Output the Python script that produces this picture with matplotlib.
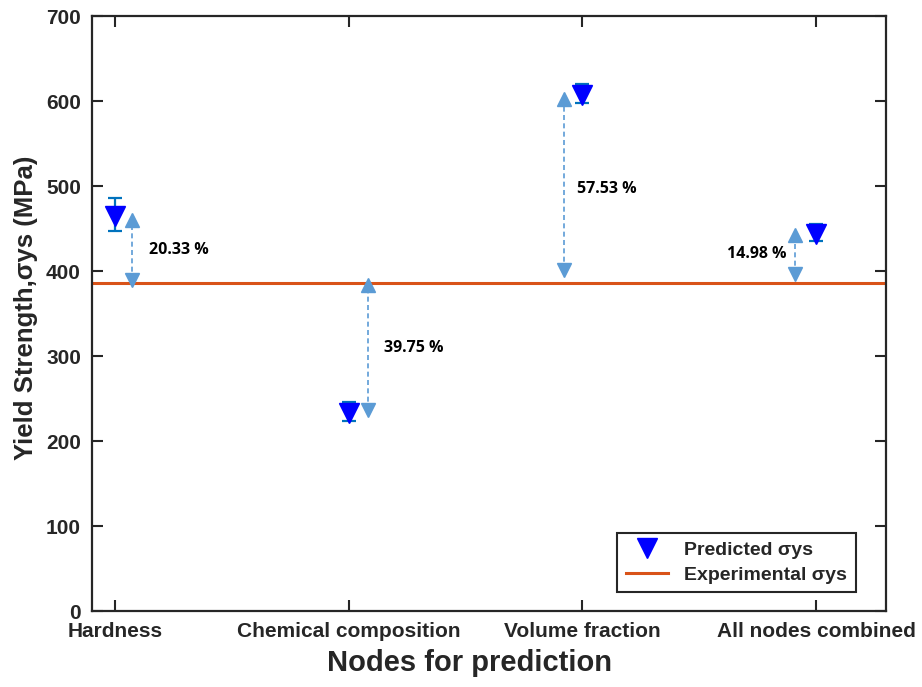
"""Yield strength predicted from each input node versus the experimental value."""

import matplotlib.pyplot as plt
from matplotlib.ticker import FixedLocator

plt.rcParams["font.family"] = ["Liberation Sans", "DejaVu Sans"]

# prediction nodes and predicted yield strength (MPa)
NODES = ["Hardness", "Chemical composition", "Volume fraction", "All nodes combined"]
PREDICTED_MPA = [465.0, 233.0, 607.0, 443.0]
ERR_LOW_MPA = [18.0, 9.0, 9.0, 8.0]
ERR_HIGH_MPA = [21.0, 13.0, 13.0, 12.0]
EXPERIMENTAL_MPA = 386.0

# deviation arrows: x position, lower end, upper end, label
ARROW_X = [1.073, 2.08, 2.92, 3.91]
ARROW_LOW = [389.0, 237.0, 401.0, 397.0]
ARROW_HIGH = [460.0, 383.0, 602.0, 442.0]
DEVIATION_LABELS = ["20.33 %", "39.75 %", "57.53 %", "14.98 %"]
LABEL_X = [1.145, 2.15, 2.975, 3.62]
LABEL_Y = [425.0, 310.0, 497.0, 420.0]

Y_TICKS = [0, 100, 200, 300, 400, 500, 600, 700]

TEXT_COLOR = "#262626"
ARROW_COLOR = "#5b9bd5"

fig = plt.figure(figsize=(9.22, 6.87), dpi=100)
ax = fig.add_axes([0.0998, 0.1106, 0.8612, 0.8661])

x_pos = list(range(1, len(NODES) + 1))

# experimental reference line
ax.axhline(EXPERIMENTAL_MPA, color="#d95319", linewidth=2.2, zorder=2,
           label="Experimental σys")

# predicted values with error bars
ax.errorbar(x_pos, PREDICTED_MPA, yerr=[ERR_LOW_MPA, ERR_HIGH_MPA],
            fmt="none", ecolor="#0072bd", elinewidth=1.6, capsize=5,
            capthick=1.6, zorder=3)
ax.plot(x_pos, PREDICTED_MPA, linestyle="none", marker="v", markersize=14,
        markerfacecolor="#0000ff", markeredgecolor="#0000ff", zorder=4,
        label="Predicted σys")

# dashed double-headed arrows for the deviation
for xa, lo, hi, text, lx, ly in zip(ARROW_X, ARROW_LOW, ARROW_HIGH,
                                    DEVIATION_LABELS, LABEL_X, LABEL_Y):
    ax.plot([xa, xa], [lo, hi], linestyle=(0, (3, 2)), color=ARROW_COLOR,
            linewidth=1.2, zorder=3)
    ax.plot([xa], [hi], linestyle="none", marker="^", markersize=10,
            color=ARROW_COLOR, zorder=3)
    ax.plot([xa], [lo], linestyle="none", marker="v", markersize=10,
            color=ARROW_COLOR, zorder=3)
    ax.text(lx, ly, text, fontsize=11.5, fontweight="bold", color="black",
            va="center", ha="left", family=["Open Sans", "DejaVu Sans"])

ax.set_xlim(0.9, 4.3)
ax.set_ylim(0, 700)
ax.xaxis.set_major_locator(FixedLocator(x_pos))
ax.set_xticklabels(NODES)
ax.yaxis.set_major_locator(FixedLocator(Y_TICKS))

ax.tick_params(axis="both", which="major", direction="in", length=8,
               width=1.5, top=True, right=True, colors=TEXT_COLOR,
               labelsize=15, pad=8)
for label in ax.get_xticklabels() + ax.get_yticklabels():
    label.set_fontweight("bold")
for spine in ax.spines.values():
    spine.set_linewidth(1.6)
    spine.set_color(TEXT_COLOR)

ax.set_xlabel("Nodes for prediction", fontsize=21, fontweight="bold",
              color=TEXT_COLOR)
ax.set_ylabel("Yield Strength,σys (MPa)", fontsize=18.5, fontweight="bold",
              color=TEXT_COLOR)
ax.xaxis.set_label_coords(0.475, -0.064)
ax.yaxis.set_label_coords(-0.068, 0.51)

handles, labels = ax.get_legend_handles_labels()
legend = ax.legend(handles[::-1], labels[::-1], loc="lower right",
                   bbox_to_anchor=(0.974, 0.015),
                   prop={"weight": "bold", "size": 14}, fancybox=False,
                   framealpha=1.0, handlelength=2.2, borderpad=0.45,
                   labelspacing=0.35)
legend.get_frame().set_edgecolor(TEXT_COLOR)
legend.get_frame().set_linewidth(1.5)
for text in legend.get_texts():
    text.set_color(TEXT_COLOR)

fig.savefig("out.png", dpi=100)
